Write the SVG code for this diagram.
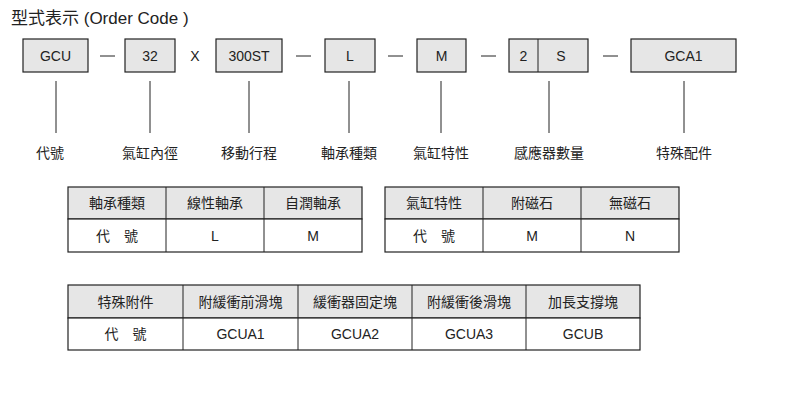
<svg xmlns="http://www.w3.org/2000/svg" width="786" height="400" viewBox="0 0 786 400">
<style>
text{font-family:"Liberation Sans","Noto Sans CJK TC",sans-serif;fill:#222;font-size:14px;text-anchor:middle}
.t{text-anchor:start;font-size:17px}
.b{fill:#e6e6e6;stroke:#222;stroke-width:1.2}
.w{fill:#fff;stroke:#222;stroke-width:1.2}
.l{stroke:#222;stroke-width:1}
</style>
<rect width="786" height="400" fill="#fff"/>
<text class="t" x="11" y="24">型式表示 (Order Code )</text>
<g id="n1"><rect class="b" x="23" y="39" width="65" height="33"/><text x="55.5" y="61">GCU</text></g>
<g id="n2"><rect class="b" x="125" y="39" width="50" height="33"/><text x="150" y="61">32</text></g>
<g id="x"><text x="195" y="61">X</text></g>
<g id="n3"><rect class="b" x="216" y="39" width="66" height="33"/><text x="249" y="61">300ST</text></g>
<g id="n4"><rect class="b" x="325" y="39" width="50" height="33"/><text x="350" y="61">L</text></g>
<g id="n5"><rect class="b" x="417" y="39" width="49" height="33"/><text x="441.5" y="61">M</text></g>
<g id="n6"><rect class="b" x="509" y="39" width="79" height="33"/><line class="l" x1="538" y1="39" x2="538" y2="72"/><text x="523.5" y="61">2</text><text x="561" y="61">S</text></g>
<g id="n7"><rect class="b" x="631" y="39" width="105" height="33"/><text x="683.5" y="61">GCA1</text></g>
<g id="connectors" class="l">
<line x1="100" y1="56" x2="115" y2="56"/><line x1="296" y1="56" x2="311" y2="56"/><line x1="388" y1="56" x2="403" y2="56"/><line x1="481" y1="56" x2="496" y2="56"/><line x1="603" y1="56" x2="618" y2="56"/>
<line x1="56" y1="81" x2="56" y2="133"/><line x1="150" y1="81" x2="150" y2="133"/><line x1="249" y1="81" x2="249" y2="133"/><line x1="349" y1="81" x2="349" y2="133"/><line x1="441" y1="81" x2="441" y2="133"/><line x1="549" y1="81" x2="549" y2="133"/><line x1="684" y1="81" x2="684" y2="133"/>
</g>
<g id="labels">
<text x="50" y="158">代號</text><text x="150" y="158">氣缸內徑</text><text x="249" y="158">移動行程</text><text x="349" y="158">軸承種類</text><text x="441" y="158">氣缸特性</text><text x="549" y="158">感應器數量</text><text x="684" y="158">特殊配件</text>
</g>
<g id="table1">
<rect class="b" x="68" y="187" width="294" height="32"/><rect class="w" x="68" y="219" width="294" height="33"/>
<line class="l" x1="166" y1="187" x2="166" y2="252"/><line class="l" x1="264" y1="187" x2="264" y2="252"/>
<text x="117" y="208">軸承種類</text><text x="215" y="208">線性軸承</text><text x="313" y="208">自潤軸承</text>
<text x="117" y="241">代　號</text><text x="215" y="241">L</text><text x="313" y="241">M</text>
</g>
<g id="table2">
<rect class="b" x="385" y="187" width="294" height="32"/><rect class="w" x="385" y="219" width="294" height="33"/>
<line class="l" x1="483" y1="187" x2="483" y2="252"/><line class="l" x1="581" y1="187" x2="581" y2="252"/>
<text x="434" y="208">氣缸特性</text><text x="532" y="208">附磁石</text><text x="630" y="208">無磁石</text>
<text x="434" y="241">代　號</text><text x="532" y="241">M</text><text x="630" y="241">N</text>
</g>
<g id="table3">
<rect class="b" x="68" y="285" width="572" height="33"/><rect class="w" x="68" y="318" width="572" height="32"/>
<line class="l" x1="183" y1="285" x2="183" y2="350"/><line class="l" x1="298" y1="285" x2="298" y2="350"/><line class="l" x1="412" y1="285" x2="412" y2="350"/><line class="l" x1="526" y1="285" x2="526" y2="350"/>
<text x="125.5" y="307">特殊附件</text><text x="240.5" y="307">附緩衝前滑塊</text><text x="355" y="307">緩衝器固定塊</text><text x="469" y="307">附緩衝後滑塊</text><text x="583" y="307">加長支撐塊</text>
<text x="125.5" y="339">代　號</text><text x="240.5" y="339">GCUA1</text><text x="355" y="339">GCUA2</text><text x="469" y="339">GCUA3</text><text x="583" y="339">GCUB</text>
</g>
</svg>
